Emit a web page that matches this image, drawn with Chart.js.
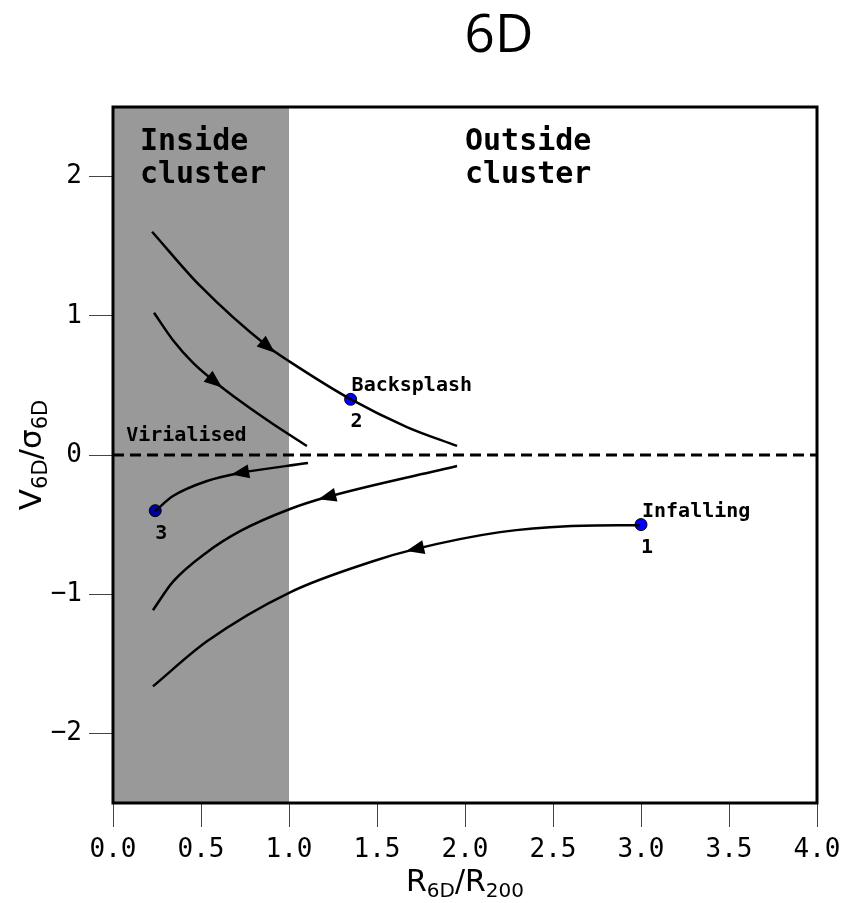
<!DOCTYPE html>
<html>
<head>
<meta charset="utf-8">
<script src="https://cdn.jsdelivr.net/npm/chart.js@4.4.1/dist/chart.umd.min.js"></script>
<style>
  html, body { margin: 0; padding: 0; background: #fff; }
</style>
</head>
<body>
<canvas id="myChart" width="844" height="903"></canvas>
<script>
// trajectories in (R6D/R200, V6D/sigma6D), each listed in the direction of motion
const backsplashX = [0.222, 0.494, 0.881, 1.006, 1.347, 1.670, 1.955];
const backsplashY = [1.604, 1.216, 0.777, 0.669, 0.403, 0.201, 0.065];
const innerOutX = [0.233, 0.341, 0.455, 0.580, 0.722, 0.909, 1.102];
const innerOutY = [1.022, 0.825, 0.662, 0.525, 0.388, 0.223, 0.065];
const virialX = [1.108, 0.722, 0.534, 0.341, 0.239];
const virialY = [-0.058, -0.129, -0.187, -0.295, -0.403];
const returnX = [1.955, 1.216, 1.006, 0.722, 0.534, 0.341, 0.227];
const returnY = [-0.079, -0.302, -0.388, -0.547, -0.698, -0.910, -1.115];
const infallX = [2.994, 2.580, 2.199, 1.716, 1.477, 1.006, 0.534, 0.227];
const infallY = [-0.504, -0.511, -0.554, -0.676, -0.763, -0.986, -1.338, -1.662];

// which point of each curve carries the arrow head
const arrowAt = [2, 3, 1, 1, 3];

// marked haloes
const markerX = [3.0, 1.35, 0.24];
const markerY = [-0.50, 0.40, -0.40];
const markerNum = ['1', '2', '3'];
const markerName = ['Infalling', 'Backsplash', ''];

const zeroX = [0, 4];
const zeroY = [0, 0];
const clusterEdge = 1.0;

const xTicks = [0, 0.5, 1, 1.5, 2, 2.5, 3, 3.5, 4];
const yTicks = [-2, -1, 0, 1, 2];

function pts(xs, ys) {
  return xs.map((v, i) => ({ x: v, y: ys[i] }));
}

function curve(xs, ys) {
  return {
    data: pts(xs, ys),
    showLine: true,
    borderColor: '#000',
    borderWidth: 2.5,
    pointRadius: 0,
    cubicInterpolationMode: 'monotone',
    fill: false
  };
}

const MONO = '"DejaVu Sans Mono", monospace';

// draws text like R_6D / R_200 with lowered small parts
function drawParts(ctx, parts, big, small, drop) {
  let w = 0;
  parts.forEach(p => {
    ctx.font = (p.sub ? small : big) + 'px "DejaVu Sans"';
    p.w = ctx.measureText(p.t).width;
    w += p.w;
  });
  let cx = -w / 2;
  parts.forEach(p => {
    ctx.font = (p.sub ? small : big) + 'px "DejaVu Sans"';
    ctx.fillText(p.t, cx, p.sub ? drop : 0);
    cx += p.w;
  });
}

const decorations = {
  id: 'decorations',
  afterDatasetsDraw(chart) {
    const { ctx, chartArea: a, scales: { x, y } } = chart;
    ctx.save();

    // shaded "inside cluster" band (drawn over the curves)
    const x0 = x.getPixelForValue(0);
    const x1 = x.getPixelForValue(clusterEdge);
    ctx.fillStyle = 'rgba(0,0,0,0.4)';
    ctx.fillRect(x0, a.top, x1 - x0, a.bottom - a.top);

    // arrow heads
    ctx.fillStyle = '#000';
    arrowAt.forEach((k, i) => {
      const el = chart.getDatasetMeta(i).data;
      const p = el[k], prev = el[k - 1], next = el[k + 1];
      const ang = Math.atan2(next.y - prev.y, next.x - prev.x);
      ctx.save();
      ctx.translate(p.x, p.y);
      ctx.rotate(ang);
      ctx.beginPath();
      ctx.moveTo(9, 0);
      ctx.lineTo(-9, -7);
      ctx.lineTo(-9, 7);
      ctx.closePath();
      ctx.fill();
      ctx.restore();
    });

    // text labels
    ctx.fillStyle = '#000';
    ctx.textBaseline = 'alphabetic';
    ctx.font = 'bold 30px ' + MONO;
    ctx.textAlign = 'left';
    const ix = x.getPixelForValue(0.153), iy = y.getPixelForValue(2.194);
    ctx.fillText('Inside', ix, iy);
    ctx.fillText('cluster', ix, iy + 33);
    const ox = x.getPixelForValue(2.0);
    ctx.fillText('Outside', ox, iy);
    ctx.fillText('cluster', ox, iy + 33);

    ctx.font = 'bold 20px ' + MONO;
    ctx.fillText('Virialised', x.getPixelForValue(0.075), y.getPixelForValue(0.10));

    markerX.forEach((mx, i) => {
      const px = x.getPixelForValue(mx), py = y.getPixelForValue(markerY[i]);
      ctx.font = 'bold 20px ' + MONO;
      ctx.textAlign = 'left';
      if (markerName[i]) ctx.fillText(markerName[i], px + 1, py - 8);
      ctx.textAlign = 'center';
      ctx.fillText(markerNum[i], px + 6, py + 28);
    });

    // frame
    ctx.strokeStyle = '#000';
    ctx.lineWidth = 3;
    ctx.strokeRect(a.left, a.top, a.right - a.left, a.bottom - a.top);

    // title
    ctx.font = '53px "Open Sans", "Noto Sans", sans-serif';
    ctx.textAlign = 'center';
    ctx.fillText('6D', 499, 52);

    // axis titles
    ctx.textAlign = 'left';
    ctx.save();
    ctx.translate((a.left + a.right) / 2, 891);
    drawParts(ctx, [{ t: 'R' }, { t: '6D', sub: true }, { t: '/' }, { t: 'R' }, { t: '200', sub: true }], 30, 20, 6);
    ctx.restore();

    ctx.save();
    ctx.translate(41, (a.top + a.bottom) / 2);
    ctx.rotate(-Math.PI / 2);
    drawParts(ctx, [{ t: 'V' }, { t: '6D', sub: true }, { t: '/' }, { t: 'σ' }, { t: '6D', sub: true }], 31, 21, 6);
    ctx.restore();

    ctx.restore();
  }
};

const ctx = document.getElementById('myChart').getContext('2d');

const chart = new Chart(ctx, {
  type: 'scatter',
  data: {
    datasets: [
      curve(backsplashX, backsplashY),
      curve(innerOutX, innerOutY),
      curve(virialX, virialY),
      curve(returnX, returnY),
      curve(infallX, infallY),
      {
        data: pts(zeroX, zeroY),
        showLine: true,
        borderColor: '#000',
        borderWidth: 3,
        borderDash: [11, 6],
        pointRadius: 0
      },
      {
        data: pts(markerX, markerY),
        showLine: false,
        pointRadius: 6,
        pointBackgroundColor: '#0000ff',
        pointBorderColor: '#000',
        pointBorderWidth: 1
      }
    ]
  },
  options: {
    responsive: false,
    animation: false,
    devicePixelRatio: 1,
    layout: { padding: { top: 107, right: 27, left: 0, bottom: 0 } },
    plugins: {
      legend: { display: false },
      tooltip: { enabled: false },
      title: { display: false }
    },
    scales: {
      x: {
        type: 'linear',
        min: 0,
        max: 4,
        afterBuildTicks: s => { s.ticks = xTicks.map(v => ({ value: v })); },
        afterFit: s => { s.height = 100; s.paddingLeft = 0; s.paddingRight = 0; },
        ticks: {
          callback: v => v.toFixed(1),
          color: '#000',
          padding: 8,
          maxRotation: 0,
          font: { family: 'DejaVu Sans Mono', size: 26 }
        },
        grid: { drawOnChartArea: false, drawTicks: true, tickLength: 24, color: '#444', lineWidth: 1 },
        border: { display: false }
      },
      y: {
        type: 'linear',
        min: -2.5,
        max: 2.5,
        afterBuildTicks: s => { s.ticks = yTicks.map(v => ({ value: v })); },
        afterFit: s => { s.width = 113; s.paddingTop = 0; s.paddingBottom = 0; },
        ticks: {
          callback: v => v < 0 ? '\u2212' + Math.abs(v) : String(v),
          color: '#000',
          padding: 7,
          font: { family: 'DejaVu Sans Mono', size: 26 }
        },
        grid: { drawOnChartArea: false, drawTicks: true, tickLength: 24, color: '#444', lineWidth: 1 },
        border: { display: false }
      }
    }
  },
  plugins: [decorations]
});
</script>
</body>
</html>
